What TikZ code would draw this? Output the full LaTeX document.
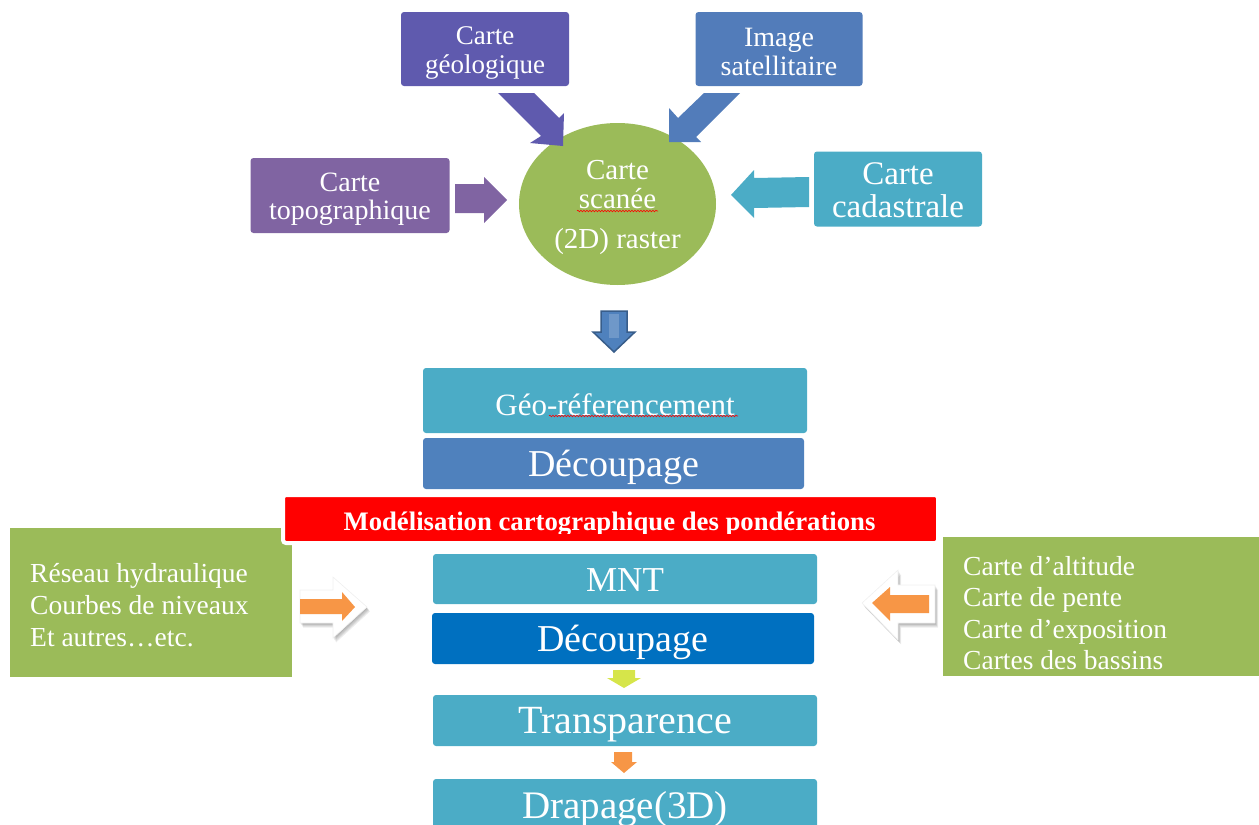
\documentclass[tikz,border=0pt]{standalone}
\usepackage{fontspec}
\setmainfont{Liberation Serif}
\usetikzlibrary{shapes.geometric,decorations.pathmorphing}

\definecolor{cgeo}{HTML}{5F5AAE}
\definecolor{csat}{HTML}{527CBA}
\definecolor{ctopo}{HTML}{8064A2}
\definecolor{caqua}{HTML}{4BACC6}
\definecolor{cgreen}{HTML}{9BBB59}
\definecolor{cblue}{HTML}{4F81BD}
\definecolor{cdeep}{HTML}{0070C0}
\definecolor{corange}{HTML}{F79646}
\definecolor{clime}{HTML}{D6E54A}
\definecolor{cnavy}{HTML}{385D8A}

\newcommand\setfs[2]{\fontsize{#1}{#2}\selectfont}
% outlines of the two white side arrows
\newcommand\rightarrowpath{(300,590) -- (333,590) -- (333,577) -- (367,607) -- (333,638) -- (333,623) -- (300,623) -- cycle}
\newcommand\leftarrowpath{(935,585) -- (898,585) -- (898,570) -- (862,603) -- (898,640) -- (898,623) -- (935,623) -- cycle}

\tikzset{
  box/.style={rounded corners=3pt, inner sep=0pt},
  txt/.style={inner sep=0pt, text=white, align=center},
  sidebox/.style={fill=cgreen, inner ysep=0pt},
  sidetxt/.style={inner sep=0pt, text=white, align=left, anchor=west},
  softshadow/.style={fill=black, opacity=0.07},
  squiggle/.style={red, line width=0.6pt, decorate, decoration={snake, segment length=3pt, amplitude=0.8pt}}
}

\begin{document}
\begin{tikzpicture}[x=1pt, y=-1pt]
\useasboundingbox (0,0) rectangle (1259,825);
\clip (0,0) rectangle (1259,825);

% ---- sources around the scanned map ----
\node[box, fill=cgeo, minimum width=168pt, minimum height=74pt] (geo) at (485,49) {};
\node[txt, font=\setfs{27}{29}] (geo-t) at (485,53) {Carte\\géologique};
\node[box, fill=csat, minimum width=167pt, minimum height=74pt] (sat) at (779,49) {};
\node[txt, font=\setfs{28}{29}] (sat-t) at (779,52) {Image\\satellitaire};
\node[box, fill=ctopo, minimum width=199pt, minimum height=75pt] (topo) at (350,195.5) {};
\node[txt, font=\setfs{28}{28}] (topo-t) at (350,199.5) {Carte\\topographique};
\node[box, fill=caqua, minimum width=168pt, minimum height=75pt] (cad) at (898,189) {};
\node[txt, font=\setfs{33}{33}] (cad-t) at (898,190) {Carte\\cadastrale};

\node[ellipse, fill=cgreen, minimum width=197pt, minimum height=162pt, inner sep=0pt] (scan) at (617.5,204) {};
\node[txt, font=\setfs{29}{29}] (scan-t) at (617.5,207.5) {Carte\\scanée\\[11pt](2D) raster};
\draw[squiggle] (577,211) -- (658,211);

% block arrows into the ellipse
\fill[cgeo] (498,93) -- (534,93) -- (559,118) -- (564,113) -- (563,146) -- (530,143) -- (541,136) -- cycle;
\fill[csat] (704,93) -- (740,93) -- (696,137) -- (701,142) -- (669,142) -- (669,108) -- (678,118) -- cycle;
\fill[ctopo] (455,184) -- (484,184) -- (484,177) -- (507,200) -- (484,223) -- (484,213) -- (455,213) -- cycle;
\fill[caqua] (809,177) -- (754,178) -- (754,170) -- (731,195) -- (754,218) -- (754,208) -- (809,207) -- cycle;

% down arrow to the processing chain
\filldraw[fill=cblue, draw=cnavy, line width=1.5pt, line join=miter]
  (601,311) -- (627,311) -- (627,332) -- (635,332) -- (614,352) -- (593,332) -- (601,332) -- cycle;
\fill[white!18!cblue] (609,314) -- (619,314) -- (619,338) -- (609,338) -- cycle;

% ---- processing chain ----
\node[box, fill=caqua, minimum width=384pt, minimum height=65pt] (georef) at (615,400.5) {};
\node[txt, font=\setfs{31}{31}] (georef-t) at (615,404.5) {Géo-réferencement};
\draw[squiggle] (549,416) -- (738,416);
\node[box, fill=cblue, minimum width=381pt, minimum height=51pt] (dec1) at (613.5,463.5) {};
\node[txt, font=\setfs{38}{38}] (dec1-t) at (613.5,467.5) {Découpage};

% side inputs
\node[sidebox, minimum width=282pt, minimum height=149pt] (hydro) at (151,602.5) {};
\node[sidetxt, font=\setfs{27.5}{32}] (hydro-t) at (30,605) {Réseau hydraulique\\Courbes de niveaux\\Et autres…etc.};
\node[sidebox, minimum width=316pt, minimum height=139pt] (maps) at (1101,606.5) {};
\node[sidetxt, font=\setfs{27.5}{31.3}] (maps-t) at (963,613) {Carte d’altitude\\Carte de pente\\Carte d’exposition\\Cartes des bassins};

% weighting band
\node[draw=white, line width=4pt, fill=red, rounded corners=3pt, minimum width=655pt, minimum height=48pt, inner sep=0pt]
  (band) at (610.5,519) {};
\begin{scope}
  \clip (283,495) rectangle (938,533);
  \node[anchor=base, inner sep=0pt, text=white, font=\bfseries\setfs{26.7}{28}]
    (band-t) at (609.5,530) {Modélisation cartographique des pondérations};
\end{scope}

\node[box, fill=caqua, minimum width=384pt, minimum height=50pt] (mnt) at (625,579) {};
\node[txt, font=\setfs{35}{35}] (mnt-t) at (625,580) {MNT};
\node[box, fill=cdeep, minimum width=382pt, minimum height=51pt] (dec2) at (623,638.5) {};
\node[txt, font=\setfs{38}{38}] (dec2-t) at (623,642.5) {Découpage};
\node[box, fill=caqua, minimum width=384pt, minimum height=51pt] (transp) at (625,720.5) {};
\node[txt, font=\setfs{40}{40}] (transp-t) at (625,724.5) {Transparence};
\node[box, fill=caqua, minimum width=384pt, minimum height=52pt] (drap) at (625,805) {};
\node[txt, font=\setfs{39}{39}] (drap-t) at (625,809) {Drapage(3D)};

% small arrows between steps
\fill[clime] (613,670) -- (635,670) -- (635,678) -- (641,678) -- (624,688) -- (607,678) -- (613,678) -- cycle;
\fill[corange] (614,752) -- (632,752) -- (632,762) -- (637,762) -- (624,773) -- (611,762) -- (614,762) -- cycle;

% side arrows: white outline over a soft shadow, orange core
\foreach \d in {1,2,...,5} {
  \fill[softshadow, shift={(0.6*\d,0.9*\d)}] \rightarrowpath;
  \fill[softshadow, shift={(0.6*\d,0.9*\d)}] \leftarrowpath;
}
\filldraw[fill=white, draw=black!6, line width=0.6pt] \rightarrowpath;
\filldraw[fill=white, draw=black!6, line width=0.6pt] \leftarrowpath;
\fill[corange] (300,599) -- (342,599) -- (342,592) -- (355,607) -- (342,621) -- (342,614) -- (300,614) -- cycle;
\fill[corange] (929,595) -- (890,595) -- (890,587) -- (872,603) -- (890,621) -- (890,613) -- (929,613) -- cycle;
\end{tikzpicture}
\end{document}
